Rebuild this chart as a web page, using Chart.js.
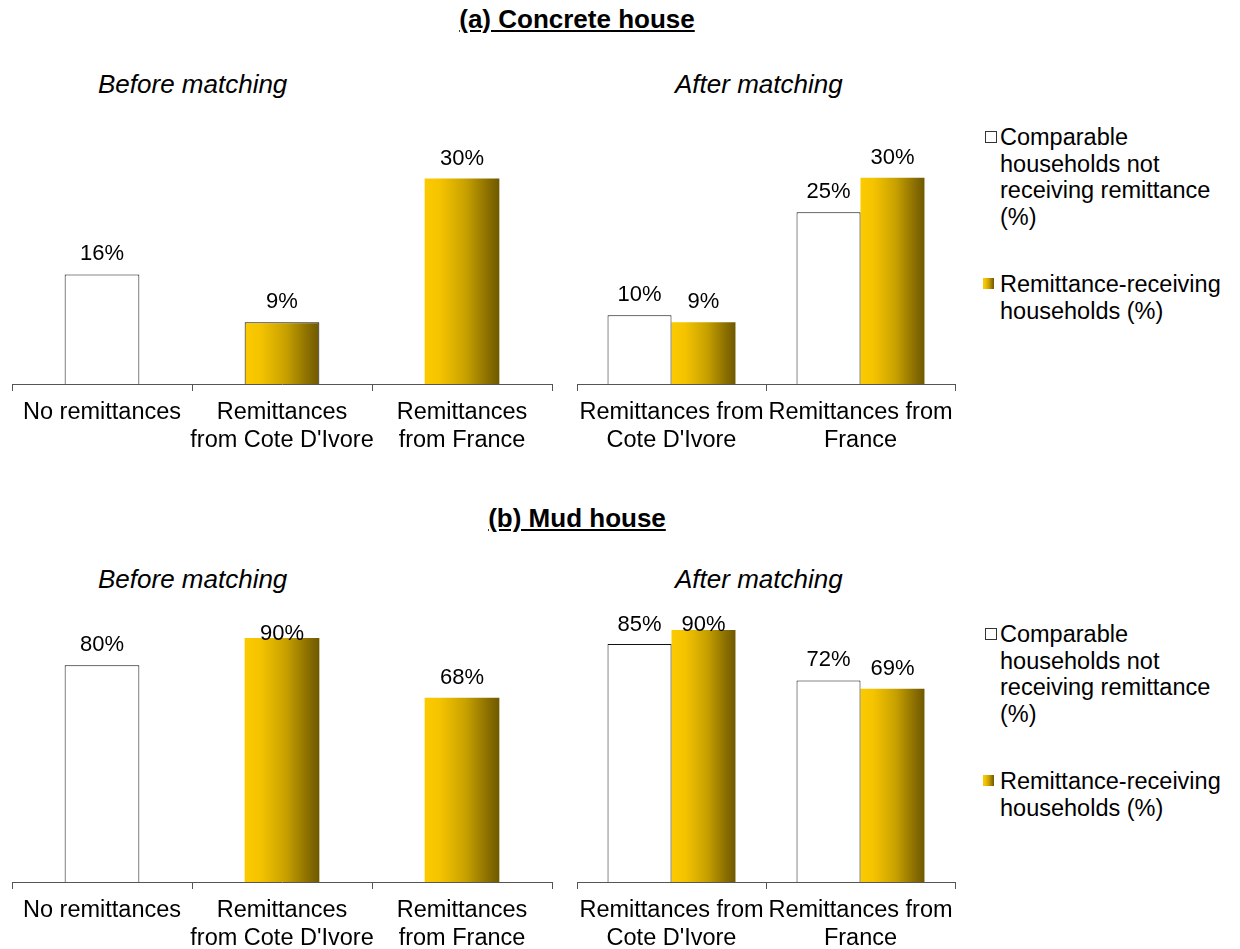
<!DOCTYPE html>
<html lang="en">
<head>
<meta charset="UTF-8">
<title>Remittances and housing</title>
<script src="https://cdn.jsdelivr.net/npm/chart.js"></script>
<style>
    body {
        margin: 0;
        width: 1240px;
        height: 949px;
        position: relative;
        overflow: hidden;
        background: #fff;
        color: #000;
        font-family: "Liberation Sans", Arial, sans-serif;
    }
    .title {
        position: absolute;
        font-size: 26px;
        line-height: 30px;
        font-weight: bold;
        text-decoration: underline;
        transform: translateX(-50%);
        white-space: nowrap;
    }
    .sub {
        position: absolute;
        font-size: 26px;
        line-height: 30px;
        font-style: italic;
        white-space: nowrap;
    }
    .box {
        position: absolute;
    }
    .legend-item {
        position: absolute;
        left: 1000px;
        font-size: 23.5px;
        line-height: 26.7px;
        white-space: nowrap;
    }
    .mark {
        position: absolute;
        top: 7px;
        width: 11px;
        height: 11px;
    }
    .mark.white {
        left: -15px;
        background: #fff;
        border: 1px solid #333;
        width: 10px;
        height: 10px;
    }
    .mark.gold {
        left: -17px;
        background: linear-gradient(to right, #fcca00 0%, #f5c400 20%, #c8a100 55%, #8a6e00 85%, #6f5900 100%);
    }
</style>
</head>
<body>

<div class="title" style="left:577px; top:4px">(a) Concrete house</div>
<div class="sub" style="left:98px; top:69px">Before matching</div>
<div class="sub" style="left:675px; top:69px">After matching</div>
<div class="box" style="left:2px; top:100px; width:560px; height:359px"><canvas id="concreteBefore"></canvas></div>
<div class="box" style="left:567px; top:99px; width:398px; height:360px"><canvas id="concreteAfter"></canvas></div>
<div class="legend-item" style="top:124px"><span class="mark white"></span>Comparable<br>households not<br>receiving remittance<br>(%)</div>
<div class="legend-item" style="top:271px"><span class="mark gold"></span>Remittance-receiving<br>households (%)</div>

<div class="title" style="left:577px; top:503px">(b) Mud house</div>
<div class="sub" style="left:98px; top:564px">Before matching</div>
<div class="sub" style="left:675px; top:564px">After matching</div>
<div class="box" style="left:2px; top:601px; width:560px; height:356px"><canvas id="mudBefore"></canvas></div>
<div class="box" style="left:567px; top:592px; width:398px; height:365px"><canvas id="mudAfter"></canvas></div>
<div class="legend-item" style="top:621px"><span class="mark white"></span>Comparable<br>households not<br>receiving remittance<br>(%)</div>
<div class="legend-item" style="top:768px"><span class="mark gold"></span>Remittance-receiving<br>households (%)</div>

<script>
    // categories
    var beforeCategories = ['No remittances', ['Remittances', "from Cote D'Ivore"], ['Remittances', 'from France']];
    var afterCategories = [['Remittances from', "Cote D'Ivore"], ['Remittances from', 'France']];

    // (a) concrete house, %
    var concreteBefore = [16, 9, 30];
    var concreteAfterComparable = [10, 25];
    var concreteAfterReceiving = [9, 30];

    // (b) mud house, %
    var mudBefore = [80, 90, 68];
    var mudAfterComparable = [85, 72];
    var mudAfterReceiving = [90, 69];

    var FONT = '"Liberation Sans", Arial, sans-serif';

    // gold gradient across each bar, left bright to right dark
    var goldFill = {
        id: 'goldFill',
        beforeDatasetsDraw: function(chart) {
            var ctx = chart.ctx;
            chart.data.datasets.forEach(function(ds, di) {
                chart.getDatasetMeta(di).data.forEach(function(bar, i) {
                    if (!ds.gold[i]) return;
                    var g = ctx.createLinearGradient(bar.x - bar.width / 2, 0, bar.x + bar.width / 2, 0);
                    g.addColorStop(0, '#fcca00');
                    g.addColorStop(0.2, '#f5c400');
                    g.addColorStop(0.55, '#c8a100');
                    g.addColorStop(0.85, '#8a6e00');
                    g.addColorStop(1, '#6f5900');
                    bar.options.backgroundColor = g;
                });
            });
        }
    };

    // percentage labels above the bars, kept inside the plot top
    var valueLabels = {
        id: 'valueLabels',
        afterDatasetsDraw: function(chart) {
            var ctx = chart.ctx;
            ctx.save();
            ctx.font = '22px ' + FONT;
            ctx.fillStyle = '#000';
            ctx.textAlign = 'center';
            ctx.textBaseline = 'middle';
            chart.data.datasets.forEach(function(ds, di) {
                chart.getDatasetMeta(di).data.forEach(function(bar, i) {
                    var y = Math.max(bar.y - 20, chart.chartArea.top + 23);
                    ctx.fillText(ds.data[i] + '%', bar.x, y);
                });
            });
            ctx.restore();
        }
    };

    function baseOptions(yMax) {
        return {
            responsive: true,
            maintainAspectRatio: false,
            animation: false,
            layout: { padding: { top: 10, left: 10, right: 10, bottom: 0 } },
            plugins: { legend: { display: false }, tooltip: { enabled: false } },
            scales: {
                x: {
                    grid: { offset: true, drawOnChartArea: false, tickLength: 7, color: '#555' },
                    border: { color: '#555', width: 1 },
                    ticks: {
                        color: '#000',
                        padding: 7,
                        maxRotation: 0,
                        autoSkip: false,
                        font: { family: FONT, size: 23.5, lineHeight: 1.22 }
                    },
                    afterFit: function(scale) { scale.height = 75; }
                },
                y: { display: false, min: 0, max: yMax }
            }
        };
    }

    function makeBefore(id, values, yMax, borders) {
        return new Chart(document.getElementById(id), {
            type: 'bar',
            data: {
                labels: beforeCategories,
                datasets: [{
                    data: values,
                    gold: [false, true, true],
                    backgroundColor: function(c) { return '#ffffff'; },
                    borderColor: '#111',
                    borderWidth: borders,
                    categoryPercentage: 1,
                    barPercentage: 0.415
                }]
            },
            options: baseOptions(yMax),
            plugins: [goldFill, valueLabels]
        });
    }

    function makeAfter(id, comparable, receiving, yMax) {
        return new Chart(document.getElementById(id), {
            type: 'bar',
            data: {
                labels: afterCategories,
                datasets: [{
                    label: 'Comparable households not receiving remittance (%)',
                    data: comparable,
                    gold: [false, false],
                    backgroundColor: function(c) { return '#ffffff'; },
                    borderColor: '#111',
                    borderWidth: 1,
                    categoryPercentage: 0.677,
                    barPercentage: 1
                }, {
                    label: 'Remittance-receiving households (%)',
                    data: receiving,
                    gold: [true, true],
                    backgroundColor: function(c) { return '#e0b000'; },
                    borderWidth: 0,
                    categoryPercentage: 0.677,
                    barPercentage: 1
                }]
            },
            options: baseOptions(yMax),
            plugins: [goldFill, valueLabels]
        });
    }

    makeBefore('concreteBefore', concreteBefore, 40, [1, 1, 0]);
    makeAfter('concreteAfter', concreteAfterComparable, concreteAfterReceiving, 40);
    makeBefore('mudBefore', mudBefore, 100, [1, 0, 0]);
    makeAfter('mudAfter', mudAfterComparable, mudAfterReceiving, 100);
</script>
</body>
</html>
